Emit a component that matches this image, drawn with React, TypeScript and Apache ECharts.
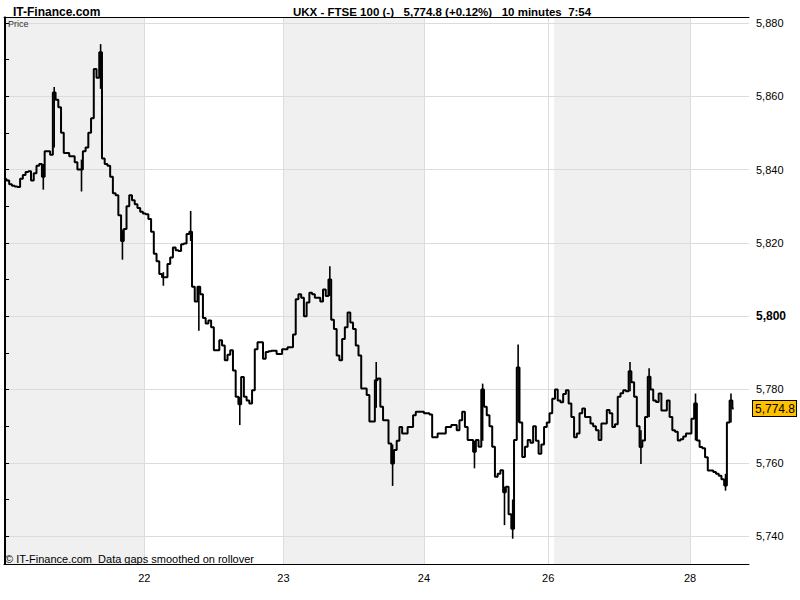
import React, { useEffect, useRef } from "react";
import * as echarts from "echarts";

// 10-minute closes of UKX (FTSE 100), bar index 0..267
const prices: number[] = [
  5837.4, 5837, 5836, 5835.6, 5835.4, 5835.2, 5837.5, 5838.5, 5839.3, 5839.5,
  5837, 5839, 5841, 5841.5, 5838, 5845, 5845, 5844, 5861, 5859,
  5857, 5850, 5844.5, 5844.5, 5843.6, 5843.6, 5842, 5840, 5840, 5845,
  5846, 5850, 5854, 5867.4, 5865, 5872, 5843, 5841.5, 5841, 5838,
  5833.5, 5833, 5827.5, 5820.5, 5823.8, 5830, 5833, 5831.6, 5830.5, 5829.5,
  5828.5, 5828, 5827.8, 5826.5, 5823, 5817, 5815, 5811.5, 5810.6, 5810.6,
  5814.2, 5816, 5818.7, 5818, 5817.8, 5819.6, 5819.8, 5822.4, 5823, 5808,
  5804, 5808, 5806, 5799.5, 5798, 5798.8, 5797, 5790.7, 5790.7, 5793.4,
  5792, 5788, 5789.5, 5790.7, 5785.2, 5778, 5776, 5783.4, 5778, 5777,
  5776.2, 5779.8, 5791, 5792.9, 5792.9, 5788.4, 5790.2, 5790.4, 5790.6, 5790.6,
  5789.7, 5789.7, 5791, 5791, 5791.5, 5791.5, 5795, 5804.6, 5806, 5805,
  5800, 5803.7, 5806.4, 5806, 5805, 5805, 5804, 5807.3, 5805.5, 5810,
  5799, 5796.5, 5789.3, 5788, 5793.8, 5797, 5801, 5798.3, 5796.5, 5792,
  5789.3, 5780.3, 5780.3, 5778.5, 5771.3, 5771.3, 5782.5, 5783, 5775.3, 5771.6,
  5771.6, 5765.3, 5759.8, 5763.5, 5766, 5769.8, 5768, 5768, 5769.8, 5769.8,
  5773, 5773.9, 5773.9, 5773.9, 5773.5, 5773.5, 5773.2, 5767, 5767, 5768,
  5768, 5768, 5769.8, 5769.8, 5770.3, 5770.3, 5768.9, 5771.6, 5773.9, 5769.8,
  5766.2, 5766.2, 5763, 5766.2, 5764.4, 5780, 5775.3, 5773, 5770, 5764.4,
  5756.2, 5757, 5758, 5752, 5753.5, 5746, 5742, 5766.2, 5786, 5771,
  5761.6, 5764.4, 5766.2, 5765.5, 5770, 5766, 5762.5, 5765, 5769.8, 5771,
  5773.5, 5777.5, 5780, 5777, 5776.5, 5778.8, 5779.8, 5776.2, 5772.5, 5767,
  5768, 5773.5, 5774.8, 5772.5, 5772.5, 5770.7, 5770, 5768.9, 5766.2, 5770.7,
  5770.7, 5774.4, 5773.5, 5769.8, 5770.5, 5778, 5779, 5779.8, 5779.5, 5785,
  5782, 5778, 5770, 5764.3, 5766.1, 5772.5, 5783.5, 5780, 5777, 5776.6,
  5778.9, 5774.3, 5774.3, 5777, 5772.5, 5768.9, 5768.5, 5766.1, 5766.4, 5767.2,
  5768, 5768, 5772, 5776.2, 5766.1, 5764.3, 5764, 5761.5, 5757.9, 5757.9,
  5757.5, 5757, 5756.5, 5755.5, 5753.8, 5771, 5777, 5774.8,
];

// bars whose high/low range stands out: [barIndex, low, high]
const barRanges: [number, number, number][] = [
  [14, 5834.5, 5841.5],
  [18, 5846, 5862.5],
  [28, 5834, 5842.7],
  [35, 5862, 5874.2],
  [43, 5815.4, 5823.6],
  [58, 5808.3, 5812],
  [68, 5820.5, 5828.7],
  [71, 5796, 5808],
  [86, 5770.3, 5778],
  [119, 5805.5, 5813.6],
  [136, 5775, 5787.5],
  [142, 5753.7, 5765],
  [172, 5758.5, 5766],
  [175, 5766, 5781.6],
  [183, 5743, 5753.5],
  [186, 5739.3, 5750],
  [188, 5771, 5792.3],
  [229, 5779.5, 5787.5],
  [233, 5759.7, 5768.9],
  [236, 5772.5, 5785.8],
  [253, 5766.1, 5778.9],
  [264, 5752.4, 5757],
  [266, 5771, 5778.9],
];

// session boundaries (bar index) and their date labels
const sessionTickBars: number[] = [51, 102, 153.5, 199, 251];
const sessionLabels: string[] = ["22", "23", "24", "26", "28"];
// shaded (alternate) sessions, as [startBar, endBar]
const shadedSessions: [number, number][] = [
  [-0.4, 51],
  [102, 153.5],
  [201.2, 251],
];
// price axis
const priceLabels: number[] = [5740, 5760, 5780, 5800, 5820, 5840, 5860, 5880];
const priceTicks: number[] = [
  5740, 5750, 5760, 5770, 5780, 5790, 5800, 5810, 5820, 5830, 5840, 5850, 5860,
  5870, 5880,
];
const lastPrice = 5774.8;

const FONT = '"Liberation Sans", Arial, sans-serif';

const fmt = (v: number) =>
  v.toLocaleString("en-US", { minimumFractionDigits: 0, maximumFractionDigits: 1 });

export default function App() {
  const ref = useRef<HTMLDivElement>(null);

  useEffect(() => {
    document.body.style.margin = "0";
    if (!ref.current) return;
    const chart = echarts.init(ref.current, undefined, { renderer: "svg" });

    const option: any = {
      animation: false,
      backgroundColor: "#ffffff",
      textStyle: { fontFamily: FONT },
      title: [
        {
          text: "IT-Finance.com",
          left: 8,
          top: 1,
          textStyle: { fontSize: 12, fontWeight: "bold", color: "#000", fontFamily: FONT },
        },
        {
          text: "UKX - FTSE 100 (-)   5,774.8 (+0.12%)   10 minutes  7:54",
          left: 288,
          top: 1,
          textStyle: { fontSize: 11.5, fontWeight: "bold", color: "#000", fontFamily: FONT },
        },
      ],
      grid: { left: 4, right: 51, top: 17, bottom: 36, containLabel: false },
      xAxis: [
        {
          type: "value",
          min: -0.4,
          max: 272.6,
          position: "bottom",
          z: 10,
          axisLine: { show: true, lineStyle: { color: "#000", width: 1 } },
          axisTick: { show: false },
          splitLine: { show: false },
          axisLabel: {
            customValues: sessionTickBars,
            formatter: (v: number) => sessionLabels[sessionTickBars.indexOf(v)] ?? "",
            color: "#000",
            fontSize: 11,
            margin: 8,
            fontFamily: FONT,
          },
        },
        {
          type: "value",
          min: -0.4,
          max: 272.6,
          position: "top",
          z: 10,
          axisLine: { show: true, onZero: false, lineStyle: { color: "#000", width: 1 } },
          axisTick: { show: false },
          axisLabel: { show: false },
          splitLine: { show: false },
        },
      ],
      yAxis: [
        {
          type: "value",
          position: "right",
          min: 5732.4,
          max: 5881.6,
          z: 10,
          axisLine: { show: true, lineStyle: { color: "#000", width: 1 } },
          axisTick: {
            show: true,
            customValues: priceTicks,
            length: 4,
            lineStyle: { color: "#000" },
          },
          splitLine: { show: false },
          axisLabel: {
            customValues: priceLabels,
            margin: 7,
            fontSize: 11,
            color: "#000",
            fontFamily: FONT,
            formatter: (v: number) => (v === 5800 ? "{b|" + fmt(v) + "}" : fmt(v)),
            rich: { b: { fontWeight: "bold", fontSize: 12, color: "#000", fontFamily: FONT } },
          },
        },
        {
          type: "value",
          position: "left",
          min: 5732.4,
          max: 5881.6,
          z: 10,
          axisLine: { show: true, onZero: false, lineStyle: { color: "#000", width: 1 } },
          axisTick: { show: false },
          axisLabel: { show: false },
          splitLine: { show: false },
        },
      ],
      series: [
        {
          type: "line",
          name: "bands",
          data: [],
          silent: true,
          markArea: {
            z: 1,
            silent: true,
            itemStyle: { color: "#f0f0f0" },
            data: shadedSessions.map(([a, b]) => [{ xAxis: a }, { xAxis: b }]),
          },
          markLine: {
            z: 2,
            silent: true,
            symbol: "none",
            label: { show: false },
            lineStyle: { color: "#dcdcdc", width: 1, type: "solid" },
            data: [
              ...sessionTickBars.map((b) => ({ xAxis: b })),
              ...priceLabels.map((p) => ({ yAxis: p })),
            ],
          },
        },
        {
          type: "line",
          name: "UKX",
          z: 3,
          step: "middle",
          data: prices.map((v, i) => [i, v]),
          showSymbol: false,
          symbol: "none",
          lineStyle: { color: "#000", width: 2 },
        },
        {
          type: "custom",
          name: "ranges",
          z: 4,
          silent: true,
          data: barRanges,
          encode: { x: 0, y: [1, 2] },
          renderItem: (params: any, api: any) => {
            const x = api.value(0);
            const lo = api.coord([x, api.value(1)]);
            const hi = api.coord([x, api.value(2)]);
            return {
              type: "line",
              shape: { x1: lo[0], y1: lo[1], x2: hi[0], y2: hi[1] },
              style: { stroke: "#000", lineWidth: 1.6 },
            };
          },
        },
      ],
      graphic: [
        {
          type: "text",
          left: 8,
          top: 19,
          z: 20,
          style: { text: "Price", fontSize: 9, fill: "#333", fontFamily: FONT },
        },
        {
          type: "text",
          left: 5,
          top: 553,
          z: 20,
          style: {
            text: "© IT-Finance.com  Data gaps smoothed on rollover",
            fontSize: 11,
            fill: "#000",
            fontFamily: FONT,
          },
        },
      ],
    };

    chart.setOption(option);

    // last-price marker on the price axis
    const yPix = chart.convertToPixel({ yAxisIndex: 0 }, lastPrice) as number;
    chart.setOption({
      graphic: [
        {
          id: "lastPrice",
          type: "text",
          x: 753,
          y: yPix,
          z: 30,
          style: {
            text: fmt(lastPrice),
            fontSize: 12,
            fontFamily: FONT,
            fill: "#000",
            verticalAlign: "middle",
            backgroundColor: "#ffc000",
            borderColor: "#000",
            borderWidth: 1,
            padding: [2, 1, 1, 2],
          },
        },
      ],
    });

    return () => chart.dispose();
  }, []);

  return <div ref={ref} style={{ width: 800, height: 600 }} />;
}
